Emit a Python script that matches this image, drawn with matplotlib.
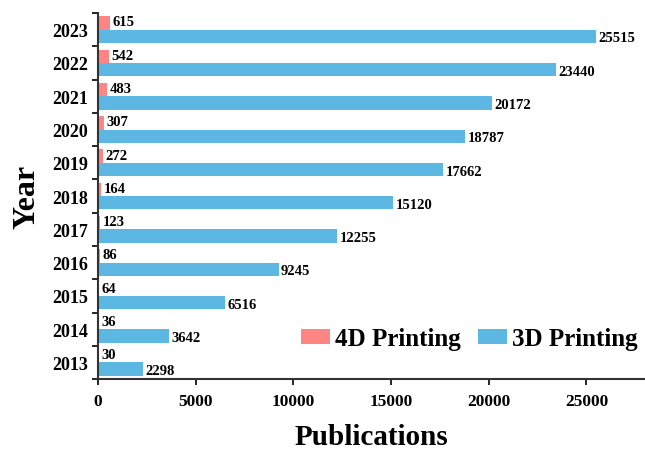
import numpy as np
import matplotlib.pyplot as plt
from matplotlib.ticker import FixedLocator

years = ['2013', '2014', '2015', '2016', '2017', '2018', '2019', '2020', '2021', '2022', '2023']
printing_4d = [30, 36, 64, 86, 123, 164, 272, 307, 483, 542, 615]
printing_3d = [2298, 3642, 6516, 9245, 12255, 15120, 17662, 18787, 20172, 23440, 25515]

plt.rcParams['font.family'] = ['Liberation Serif', 'DejaVu Serif']
plt.rcParams['font.weight'] = 'bold'

fig = plt.figure(figsize=(6.45, 4.52), dpi=100)
ax = fig.add_axes([0.152, 0.159, 0.848, 0.81])

y = np.arange(len(years))
h = 0.4
c4 = '#FF8585'
c3 = '#5CB8E2'
ax.barh(y + h / 2, printing_4d, height=h, color=c4, label='4D Printing')
ax.barh(y - h / 2, printing_3d, height=h, color=c3, label='3D Printing')

for i in range(len(years)):
    ax.text(printing_4d[i] + 120, y[i] + h / 2 + 0.03, str(printing_4d[i]),
            va='center', ha='left', fontsize=10.5, fontweight='bold')
    ax.text(printing_3d[i] + 120, y[i] - h / 2 - 0.05, str(printing_3d[i]),
            va='center', ha='left', fontsize=10.5, fontweight='bold')

ax.set_xlim(0, 28000)
ax.set_ylim(-0.5, len(years) - 0.5)
ax.set_xticks([0, 5000, 10000, 15000, 20000, 25000])
ax.set_yticks(y)
ax.set_yticklabels(years)
ax.yaxis.set_minor_locator(FixedLocator(np.arange(-0.5, len(years), 1)))
ax.tick_params(axis='y', which='major', length=0, labelsize=13, pad=7)
ax.tick_params(axis='y', which='minor', length=4, width=1.2)
ax.tick_params(axis='x', which='major', length=4, width=1.2, labelsize=12.5, pad=6)
for lab in ax.get_xticklabels() + ax.get_yticklabels():
    lab.set_fontweight('bold')

for s in ['top', 'right']:
    ax.spines[s].set_visible(False)
for s in ['left', 'bottom']:
    ax.spines[s].set_linewidth(1.5)
    ax.spines[s].set_color('#333333')

ax.set_xlabel('Publications', fontsize=21, fontweight='bold', labelpad=10)
ax.set_ylabel('Year', fontsize=23, fontweight='bold', labelpad=8)

ax.legend(loc='center right', bbox_to_anchor=(1.028, 0.11), ncol=2, frameon=False,
          prop={'size': 18, 'weight': 'bold'}, handlelength=1.15, handleheight=0.6,
          columnspacing=0.7, handletextpad=0.2)

fig.savefig('out.png', dpi=100)
